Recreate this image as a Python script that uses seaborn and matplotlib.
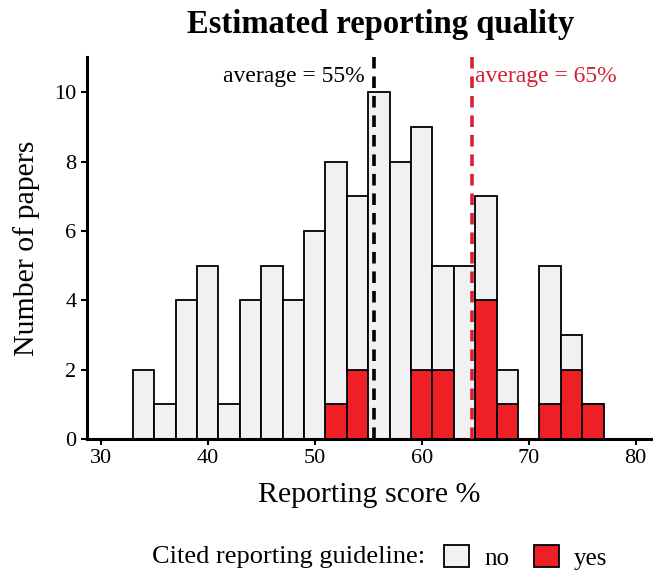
import numpy as np
import pandas as pd
import matplotlib
matplotlib.use("Agg")
import matplotlib.pyplot as plt
from matplotlib.patches import Patch
import seaborn as sns

# bins of width 2 from 33 to 77
bin_edges = list(range(33, 79, 2))
no_counts = [2, 1, 4, 5, 1, 4, 5, 4, 6, 7, 5, 10, 8, 7, 3, 5, 3, 1, 0, 4, 1, 0]
yes_counts = [0, 0, 0, 0, 0, 0, 0, 0, 0, 1, 2, 0, 0, 2, 2, 0, 4, 1, 0, 1, 2, 1]
avg_no = 55.5
avg_yes = 64.7

gray = "#f0f1f0"
red = "#ee1f25"
line_red = "#d42030"

centers = [(a + b) / 2 for a, b in zip(bin_edges[:-1], bin_edges[1:])]
df = pd.DataFrame({
    "score": centers * 2,
    "count": no_counts + yes_counts,
    "cited": ["no"] * len(centers) + ["yes"] * len(centers),
})

sns.set_theme(style="ticks")
plt.rcParams["font.family"] = ["Liberation Serif", "DejaVu Serif"]
plt.rcParams["text.color"] = "black"
plt.rcParams["axes.labelcolor"] = "black"

fig = plt.figure(figsize=(6.53, 5.72), dpi=100)
ax = fig.add_axes([0.133, 0.2325, 0.865, 0.667])

sns.histplot(
    data=df, x="score", weights="count", hue="cited",
    hue_order=["no", "yes"], multiple="stack", bins=bin_edges,
    palette={"no": gray, "yes": red}, alpha=1,
    edgecolor="black", linewidth=1.3, legend=False, ax=ax,
)

# mean lines
ax.axvline(avg_no, color="black", lw=2.6, ls=(0, (3.2, 2.2)), zorder=5)
ax.axvline(avg_yes, color=line_red, lw=2.6, ls=(0, (3.2, 2.2)), zorder=5)
ax.text(avg_no - 0.8, 10.45, "average = 55%", ha="right", va="center",
        fontsize=17, color="black")
ax.text(avg_yes + 0.3, 10.45, "average = 65%", ha="left", va="center",
        fontsize=17, color=line_red)

ax.set_xlim(28.7, 81.5)
ax.set_ylim(0, 11)
ax.set_xticks([30, 40, 50, 60, 70, 80])
ax.set_yticks([0, 2, 4, 6, 8, 10])
ax.tick_params(labelsize=16, colors="black", width=1.5, length=4)
for s in ["left", "bottom"]:
    ax.spines[s].set_linewidth(2.2)
    ax.spines[s].set_color("black")
sns.despine(ax=ax)

ax.set_xlabel("Reporting score %", fontsize=21.5, labelpad=10)
ax.set_ylabel("Number of papers", fontsize=21.5, labelpad=10)
fig.text(0.583, 0.958, "Estimated reporting quality", fontsize=23.5,
         fontweight="bold", ha="center", va="center", color="black")

# legend at bottom
fig.text(0.233, 0.026, "Cited reporting guideline:", fontsize=19, va="center", ha="left")
handles = [Patch(facecolor=gray, edgecolor="black", lw=1.3, label="no"),
           Patch(facecolor=red, edgecolor="black", lw=1.3, label="yes")]
fig.legend(handles=handles, loc="center left", bbox_to_anchor=(0.68, 0.026),
           ncol=2, frameon=False, fontsize=18, handlelength=1.0, handleheight=1.0,
           columnspacing=1.0, handletextpad=0.6, borderpad=0, borderaxespad=0)

fig.savefig("out.png", dpi=100)
